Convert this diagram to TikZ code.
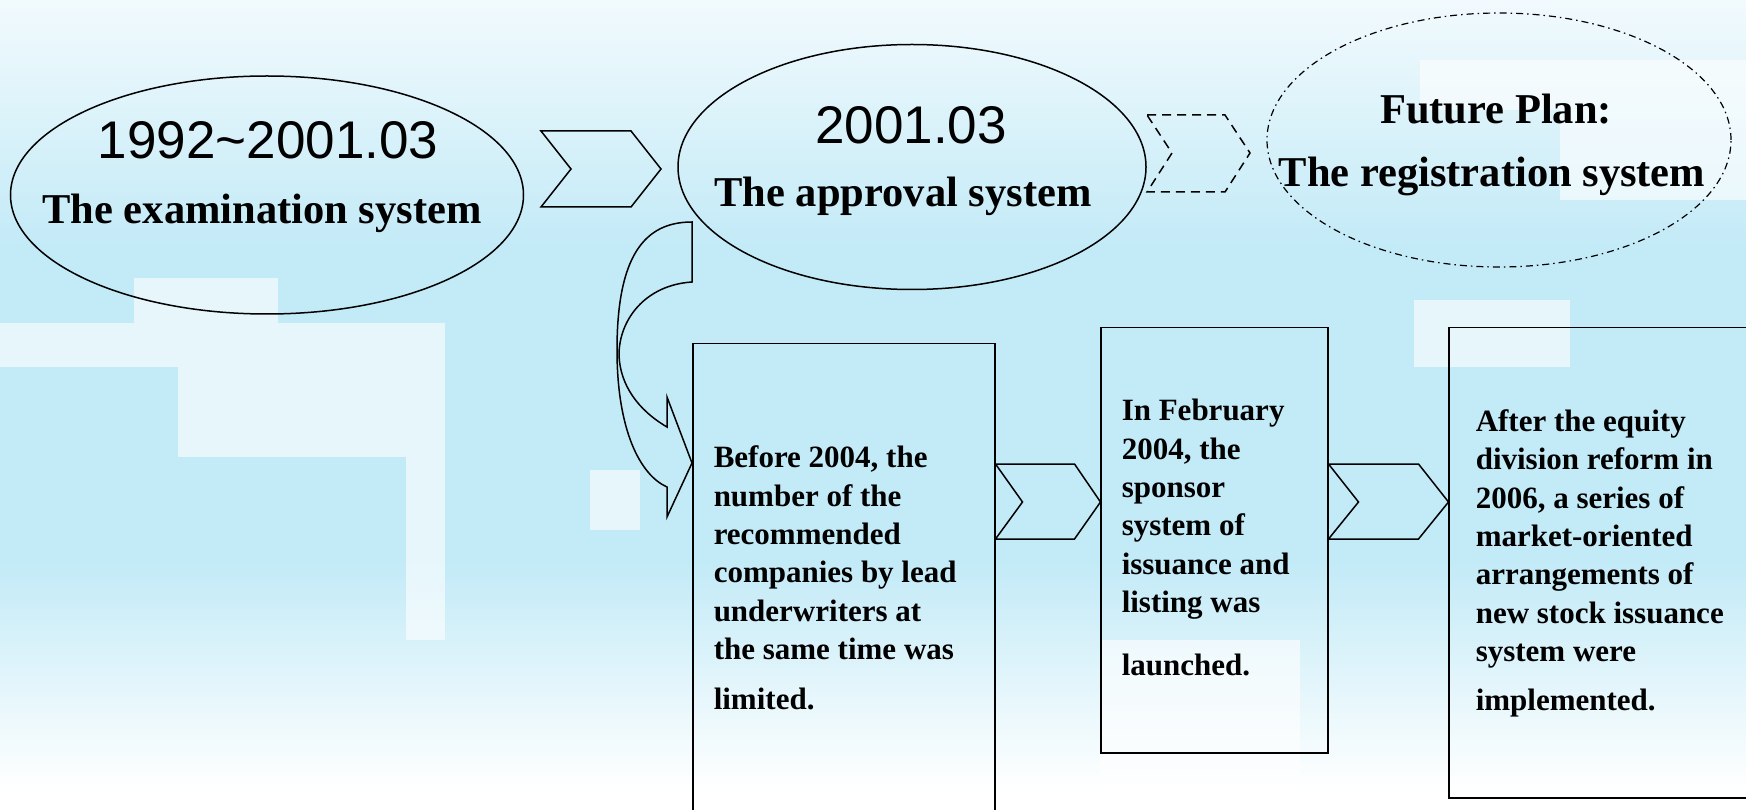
\documentclass[tikz,border=0pt]{standalone}
\usepackage{fontspec}
\setmainfont{Liberation Serif}
\setsansfont{Liberation Sans}
\usetikzlibrary{shapes.geometric}
\definecolor{skyblue}{RGB}{194,234,247}
\definecolor{skypale}{RGB}{242,250,253}

\begin{document}
\begin{tikzpicture}[x=1pt,y=-1pt,line width=1.5pt,
  stage/.style={draw,ellipse,inner sep=0},
  box/.style={draw,rectangle,anchor=north west,inner sep=0},
  datetext/.style={font=\sffamily\fontsize{53}{60}\selectfont,anchor=base,inner sep=0},
  titletext/.style={font=\bfseries\fontsize{42.5}{50}\selectfont,anchor=base,inner sep=0},
  boxtext/.style={font=\bfseries\fontsize{31}{38.4}\selectfont,align=left,anchor=base west,inner sep=0},
  cloud/.style={fill=white,opacity=0.6},
  chevron/.style={line join=miter}]
\useasboundingbox (0,0) rectangle (1746,810);
\clip (0,0) rectangle (1746,810);
\fill[skyblue] (0,0) rectangle (1746,810);
\shade[top color=skypale,bottom color=skyblue] (0,0) rectangle (1746,250);
\shade[top color=skyblue,bottom color=white] (0,560) rectangle (1746,790);
\fill[white] (0,790) rectangle (1746,810);
\fill[cloud] (134,278) rectangle (278,323);
\fill[cloud] (0,323) rectangle (445,367);
\fill[cloud] (178,367) rectangle (445,457);
\fill[cloud] (406,457) rectangle (445,640);
\fill[cloud] (590,470) rectangle (640,530);
\fill[cloud] (1414,300) rectangle (1570,367);
\fill[cloud] (1420,60) rectangle (1746,110);
\fill[cloud] (1560,110) rectangle (1746,200);
\fill[cloud] (1100,640) rectangle (1300,810);
\node[stage,minimum width=513,minimum height=238] (exam) at (267,195) {};
\node[datetext] (examdate) at (268,159) {1992\textasciitilde2001.03};
\node[titletext] (examname) at (262,224) {The examination system};
\node[stage,minimum width=468,minimum height=245] (approval) at (912,167) {};
\node[datetext] (approvaldate) at (911,144) {2001.03};
\node[titletext] (approvalname) at (903,207) {The approval system};
\node[stage,dash pattern=on 7pt off 4pt on 1.5pt off 4pt,line width=1.2pt,minimum width=464,minimum height=254] (regist) at (1499,140) {};
\node[titletext] (registplan) at (1496,124) {Future Plan:};
\node[titletext] (registname) at (1492,187) {The registration system};
\draw[chevron] (541,131) -- (631,131) -- (661,169) -- (631,207) -- (541,207) -- (571,169) -- cycle;
\draw[chevron,dash pattern=on 9pt off 6pt] (1147,115) -- (1225,115) -- (1250,153) -- (1225,192) -- (1147,192) -- (1172,153) -- cycle;
\node[box,minimum width=302,minimum height=500] (before) at (692,343) {};
\node[box,minimum width=227,minimum height=425] (sponsor) at (1100,327) {};
\node[box,minimum width=332,minimum height=470] (reform) at (1448,327) {};
\node[boxtext] (beforetext) at (713,709) {Before 2004, the\\number of the\\recommended\\companies by lead\\underwriters at\\the same time was\\[11pt]limited.};
\node[boxtext] (sponsortext) at (1121,675) {In February\\2004, the\\sponsor\\system of\\issuance and\\listing was\\[24pt]launched.};
\node[boxtext] (reformtext) at (1475,710) {After the equity\\division reform in\\2006, a series of\\market-oriented\\arrangements of\\new stock issuance\\system were\\[10pt]implemented.};
\draw[chevron] (before.east |- 0,464) -- ++(79,0) -- ++(26,38) -- ++(-26,37) -- ++(-79,0) -- ++(27,-37) -- cycle;
\draw[chevron] (sponsor.east |- 0,464) -- ++(90,0) -- ++(30,38) -- ++(-30,37) -- ++(-90,0) -- ++(30,-37) -- cycle;
\draw[chevron] (692,222) .. controls (645,222) and (617,255) .. (617,350) .. controls (617,430) and (640,475) .. (667,487) -- (667,517) -- (before.west |- 0,463) -- (667,397) -- (667,427) .. controls (638,410) and (620,385) .. (619,355) .. controls (619,320) and (645,285) .. (692,282) -- cycle;
\end{tikzpicture}
\end{document}
